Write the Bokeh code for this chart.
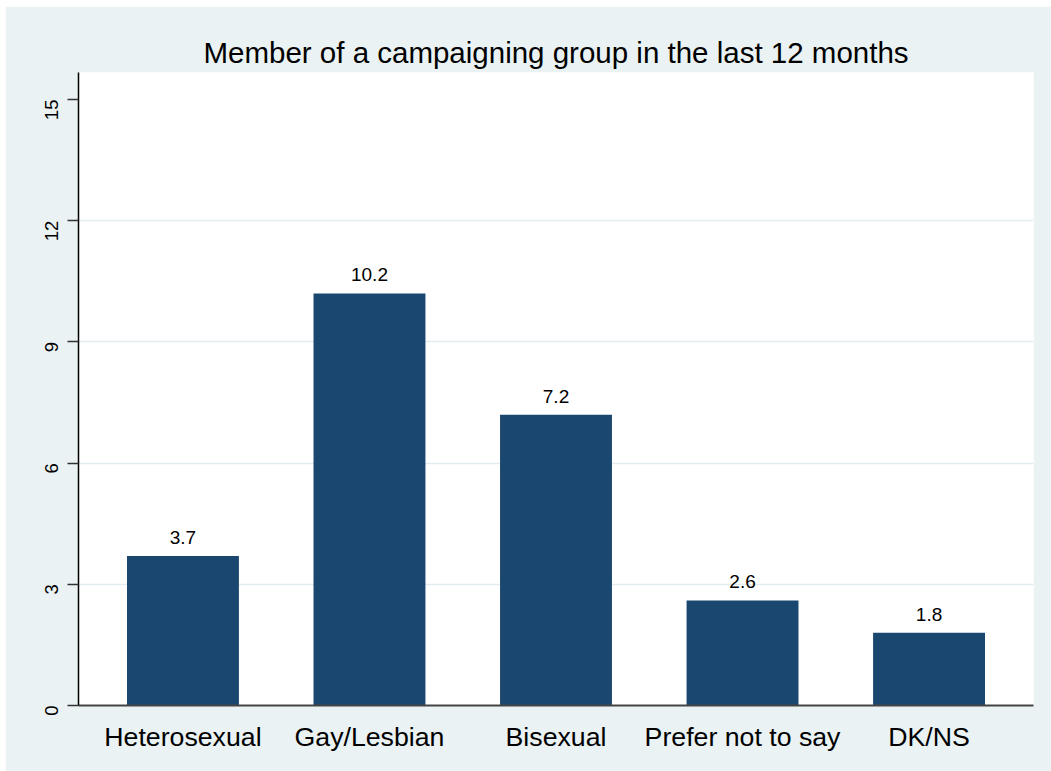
import math

from bokeh.plotting import figure
from bokeh.models import FactorRange, Range1d, FixedTicker, ColumnDataSource, LabelSet
from bokeh.core.properties import value
from bokeh.embed import file_html
from bokeh.resources import INLINE

# Share (%) who were a member of a campaigning group, by sexual orientation
categories = ["Heterosexual", "Gay/Lesbian", "Bisexual", "Prefer not to say", "DK/NS"]
member_pct = [3.7, 10.2, 7.2, 2.6, 1.8]
value_labels = ["3.7", "10.2", "7.2", "2.6", "1.8"]
y_ticks = [0, 3, 6, 9, 12, 15]
grid_ticks = [3, 6, 9, 12]

FONT = "Liberation Sans"
BAR = "#1A476F"
REGION = "#EAF2F3"

src = ColumnDataSource(dict(cat=categories, val=member_pct, lab=value_labels))

p = figure(
    width=1046,
    height=765,
    x_range=FactorRange(*categories, range_padding=0.06, range_padding_units="absolute"),
    y_range=Range1d(0, 15.67),
    title="Member of a campaigning group in the last 12 months",
    output_backend="svg",
    toolbar_location=None,
    min_border_left=73,
    min_border_top=66,
    min_border_right=18,
    min_border_bottom=66,
)
p.margin = (6, 0, 0, 5)

p.border_fill_color = REGION
p.background_fill_color = "white"
p.outline_line_color = None

# title
p.title.align = "center"
p.title.text_font = FONT
p.title.text_font_size = "29.5px"
p.title.text_font_style = "normal"
p.title.text_color = "black"
p.title.standoff = 7

# bars and value labels
p.vbar(x="cat", top="val", width=0.6, source=src, fill_color=BAR, line_color=None)
p.add_layout(LabelSet(
    x="cat", y="val", text="lab", source=src,
    y_offset=12, text_align="center", text_baseline="alphabetic",
    text_font=value(FONT), text_font_size=value("19px"), text_color="black",
))

# grid
p.xgrid.visible = False
p.ygrid.ticker = FixedTicker(ticks=grid_ticks)
p.ygrid.grid_line_color = "#E2ECEF"
p.ygrid.grid_line_width = 1.5

# y axis
p.yaxis.ticker = FixedTicker(ticks=y_ticks)
p.yaxis.major_label_orientation = math.pi / 2
p.yaxis.major_tick_out = 11
p.yaxis.major_tick_in = 0
p.yaxis.minor_tick_line_color = None
p.yaxis.axis_line_color = "black"
p.yaxis.axis_line_width = 1.5
p.yaxis.major_tick_line_color = "#333333"
p.yaxis.major_tick_line_width = 1.5
p.yaxis.major_label_standoff = 16
p.yaxis.major_label_text_font = FONT
p.yaxis.major_label_text_font_size = "18.5px"
p.yaxis.major_label_text_color = "black"

# x axis
p.xaxis.major_tick_line_color = None
p.xaxis.minor_tick_line_color = None
p.xaxis.axis_line_color = "#444444"
p.xaxis.axis_line_width = 2
p.xaxis.major_label_standoff = 10
p.xaxis.major_label_text_font = FONT
p.xaxis.major_label_text_font_size = "26.7px"
p.xaxis.major_label_text_color = "black"

open("out.html", "w").write(file_html(p, INLINE))
